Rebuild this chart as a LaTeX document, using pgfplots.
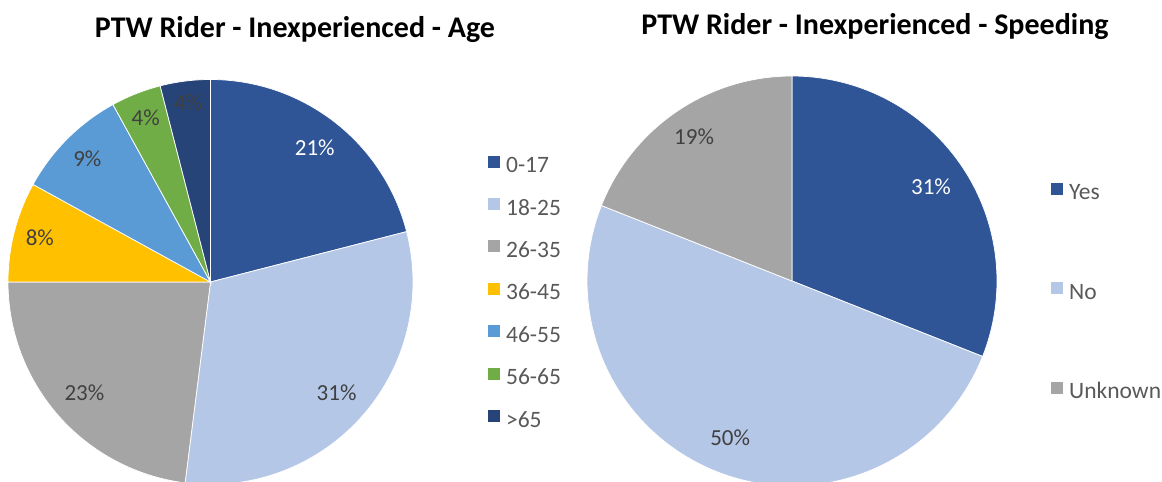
\documentclass[border=0pt]{standalone}
\usepackage{fontspec}
\setmainfont{Carlito}
\usepackage{pgfplots}
\pgfplotsset{compat=1.18}
\definecolor{cA}{HTML}{2F5597}
\definecolor{cB}{HTML}{B4C7E7}
\definecolor{cC}{HTML}{A5A5A5}
\definecolor{cD}{HTML}{FFC000}
\definecolor{cE}{HTML}{5B9BD5}
\definecolor{cF}{HTML}{70AD47}
\definecolor{cG}{HTML}{264478}
\definecolor{lbldark}{HTML}{404040}
\definecolor{legtext}{HTML}{595959}
\tikzset{pielabel/.style={font=\fontsize{23bp}{27bp}\selectfont, inner sep=0pt}}
% \slice{fill colour}{cumulative start %}{share %}{label colour}{label radius}
\newcommand{\slice}[5]{%
  \pgfmathsetmacro\sa{90-3.6*#2}%
  \pgfmathsetmacro\sb{90-3.6*(#2+#3)}%
  \pgfmathsetmacro\smid{(\sa+\sb)/2}%
  \edef\tmp{%
    \noexpand\addplot[fill=#1, draw=white, line width=0.75bp, domain=\sb:\sa, samples=80]
      ({cos(x)},{sin(x)}) -- (axis cs:0,0) -- cycle;
    \noexpand\node[pielabel, text=#4] at (axis cs:{#5*cos(\smid)},{#5*sin(\smid)}) {#3\noexpand\%};
  }\tmp}
\pgfplotsset{
  pieaxis/.style={anchor=center, xmin=-1, xmax=1, ymin=-1, ymax=1, hide axis, clip=false,
    legend image code/.code={\fill[##1,draw=none] (0bp,-1bp) rectangle (12bp,11bp);},
    legend cell align=left,
    legend style={anchor=north west, draw=none, fill=none, inner sep=0pt, column sep=6bp,
      font=\fontsize{23.5bp}{27bp}\selectfont, text=legtext,
      nodes={inner sep=0pt, text height=17bp, text depth=5bp, anchor=west}}}
}
\begin{document}
\begin{tikzpicture}
\useasboundingbox (0,0) rectangle (1162bp,482bp);
\node[anchor=base, font=\bfseries\fontsize{30bp}{34bp}\selectfont] at (295bp,444bp) {PTW Rider - Inexperienced - Age};
\node[anchor=base, font=\bfseries\fontsize{30bp}{34bp}\selectfont] at (875bp,447bp) {PTW Rider - Inexperienced - Speeding};
\begin{axis}[pieaxis, at={(210.5bp,200bp)}, x=202.5bp, y=202.5bp,
  legend style={at={(1.185,0.8125)}, row sep=20.4bp}]
\slice{cA}{0}{21}{white}{0.84}
\addlegendentry{0-17}
\slice{cB}{21}{31}{lbldark}{0.83}
\addlegendentry{18-25}
\slice{cC}{52}{23}{lbldark}{0.83}
\addlegendentry{26-35}
\slice{cD}{75}{8}{lbldark}{0.87}
\addlegendentry{36-45}
\slice{cE}{83}{9}{lbldark}{0.86}
\addlegendentry{46-55}
\slice{cF}{92}{4}{lbldark}{0.87}
\addlegendentry{56-65}
\slice{cG}{96}{4}{lbldark}{0.89}
\addlegendentry{>65}
\end{axis}
\begin{axis}[pieaxis, at={(792bp,201bp)}, x=205bp, y=205bp,
  legend style={at={(1.1317,0.7405)}, row sep=77.5bp}]
\slice{cA}{0}{31}{white}{0.82}
\addlegendentry{Yes}
\slice{cB}{31}{50}{lbldark}{0.82}
\addlegendentry{No}
\slice{cC}{81}{19}{lbldark}{0.85}
\addlegendentry{Unknown}
\end{axis}
\end{tikzpicture}
\end{document}
